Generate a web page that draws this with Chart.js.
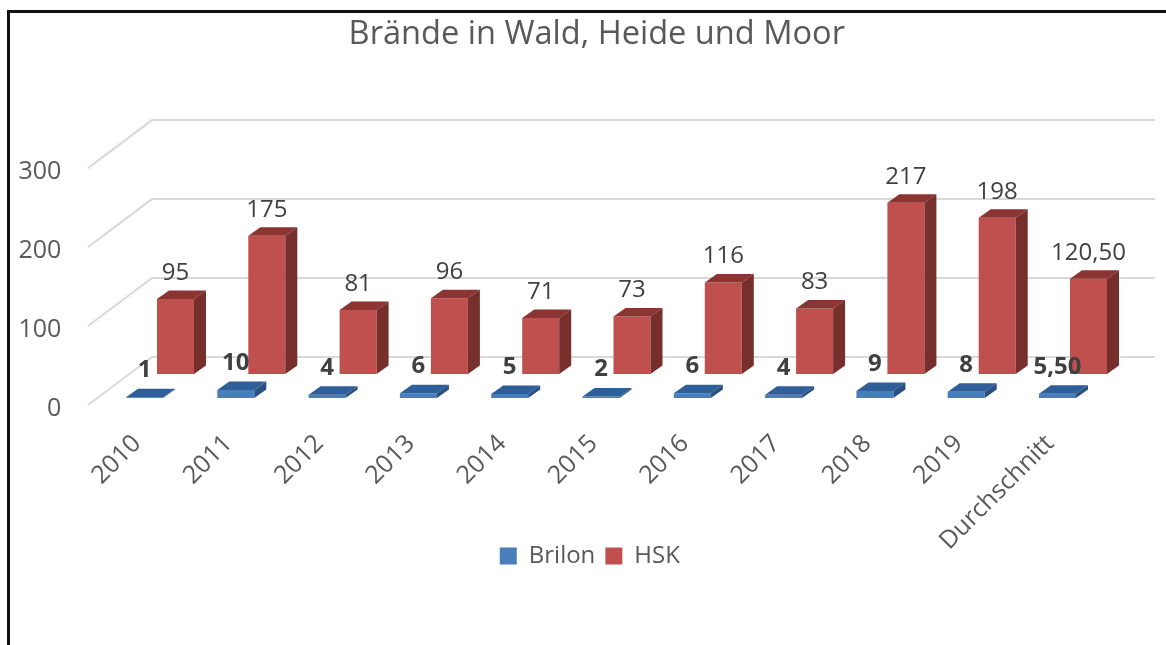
<!DOCTYPE html>
<html>
<head>
<meta charset="utf-8">
<title>Brände in Wald, Heide und Moor</title>
<script src="https://cdn.jsdelivr.net/npm/chart.js@4"></script>
<style>
  html, body { margin: 0; padding: 0; background: #fff; overflow: hidden; }
  #wrap { position: relative; width: 1166px; height: 645px; }
  #frame { position: absolute; left: 7px; top: 10px; width: 1159px; height: 635px; border-left: 3px solid #111; border-top: 3px solid #111; box-sizing: border-box; }
</style>
</head>
<body>
<div id="wrap">
  <canvas id="chart" width="1166" height="645"></canvas>
  <div id="frame"></div>
</div>
<script>
const categories = ['2010', '2011', '2012', '2013', '2014', '2015', '2016', '2017', '2018', '2019', 'Durchschnitt'];
const brilonValues = [1, 10, 4, 6, 5, 2, 6, 4, 9, 8, 5.5];
const hskValues = [95, 175, 81, 96, 71, 73, 116, 83, 217, 198, 120.5];
const valueTicks = [0, 100, 200, 300];

const fontFamily = '"Open Sans", sans-serif';
const textColor = '#595959';
const labelColor = '#404040';
const gridColor = '#d9d9d9';

// Format a value the German way, only averages have decimals
const formatValue = function (value) {
  return Number.isInteger(value) ? String(value) : value.toFixed(2).replace('.', ',');
};

// Side and top faces for the fake 3D look, painted around the library's own bars
const depthColors = [
  { top: '#2f5f98', side: '#2a5082' },
  { top: '#8c3431', side: '#772f2c' },
];

const threeDPlugin = {
  id: 'threeD',
  afterLayout(chart) {
    // Title and legend are not centred on the plot in the original
    chart.titleBlock.left += 29;
    chart.titleBlock.right += 29;
    chart.legend.left += 22;
    chart.legend.right += 22;
    // The long label runs past the legend's top, axis labels get clipped otherwise
    chart.scales.x.bottom += 40;
  },
  beforeDatasetsDraw(chart) {
    const { ctx, scales } = chart;
    ctx.save();
    ctx.strokeStyle = gridColor;
    ctx.lineWidth = 2;
    // Wall and floor lines follow the value axis
    valueTicks.forEach((tick) => {
      const y = scales.y.getPixelForValue(tick);
      ctx.beginPath();
      ctx.moveTo(88, y);
      ctx.lineTo(152, y - 48);
      ctx.lineTo(1155, y - 48);
      ctx.stroke();
    });
    ctx.restore();
  },
  afterDatasetsDraw(chart) {
    const { ctx } = chart;
    const dx = 12;
    const dy = 8.5;
    ctx.save();
    chart.data.datasets.forEach((dataset, i) => {
      chart.getDatasetMeta(i).data.forEach((bar) => {
        const left = bar.x - bar.width / 2;
        const right = bar.x + bar.width / 2;
        ctx.fillStyle = depthColors[i].top;
        ctx.beginPath();
        ctx.moveTo(left, bar.y);
        ctx.lineTo(left + dx, bar.y - dy);
        ctx.lineTo(right + dx, bar.y - dy);
        ctx.lineTo(right, bar.y);
        ctx.closePath();
        ctx.fill();
        ctx.fillStyle = depthColors[i].side;
        ctx.beginPath();
        ctx.moveTo(right, bar.y);
        ctx.lineTo(right + dx, bar.y - dy);
        ctx.lineTo(right + dx, bar.base - dy);
        ctx.lineTo(right, bar.base);
        ctx.closePath();
        ctx.fill();
      });
    });
    // Value labels, Brilon is bold in the original
    ctx.textAlign = 'center';
    ctx.textBaseline = 'middle';
    ctx.fillStyle = labelColor;
    chart.data.datasets.forEach((dataset, i) => {
      ctx.font = (i === 0 ? 'bold 24px ' : '24px ') + fontFamily;
      chart.getDatasetMeta(i).data.forEach((bar, index) => {
        ctx.fillText(formatValue(dataset.data[index]), bar.x, bar.y - (i === 0 ? 27 : 26));
      });
    });
    ctx.restore();
  },
};

new Chart(document.getElementById('chart'), {
  type: 'bar',
  data: {
    labels: categories,
    datasets: [
      { label: 'Brilon', data: brilonValues, yAxisID: 'yBrilon', backgroundColor: '#4a7ebb', clip: false },
      { label: 'HSK', data: hskValues, yAxisID: 'yHsk', backgroundColor: '#c0504d', clip: false },
    ],
  },
  options: {
    responsive: false,
    animation: false,
    categoryPercentage: 0.679,
    barPercentage: 1.194,
    layout: {
      autoPadding: false,
      padding: { left: 17, right: 47.35, top: 0, bottom: 67 },
    },
    plugins: {
      title: {
        display: true,
        text: 'Brände in Wald, Heide und Moor',
        color: textColor,
        font: { family: fontFamily, size: 32.6, weight: 'normal' },
        padding: { top: 15, bottom: 114 },
      },
      legend: {
        position: 'bottom',
        labels: {
          color: textColor,
          font: { family: fontFamily, size: 24 },
          boxWidth: 17,
          boxHeight: 17,
          padding: 10,
        },
      },
      tooltip: { enabled: false },
    },
    scales: {
      x: {
        grid: { display: false },
        border: { display: false },
        ticks: {
          color: textColor,
          font: { family: fontFamily, size: 25 },
          minRotation: 45,
          maxRotation: 45,
          autoSkip: false,
          labelOffset: -23,
          padding: 16,
        },
        afterFit(scale) {
          scale.height = 129;
        },
      },
      y: {
        min: 0,
        max: 300,
        grid: { display: false },
        border: { display: false },
        ticks: {
          color: textColor,
          font: { family: fontFamily, size: 25 },
          stepSize: 100,
          padding: 45,
          labelOffset: 4,
        },
        afterFit(scale) {
          scale.width = 97.35;
        },
      },
      // Both rows share the value scale but stand further back on the floor
      yBrilon: { display: false, min: -8.86, max: 291.14 },
      yHsk: { display: false, min: -39.24, max: 260.76 },
    },
  },
  plugins: [threeDPlugin],
});
</script>
</body>
</html>
